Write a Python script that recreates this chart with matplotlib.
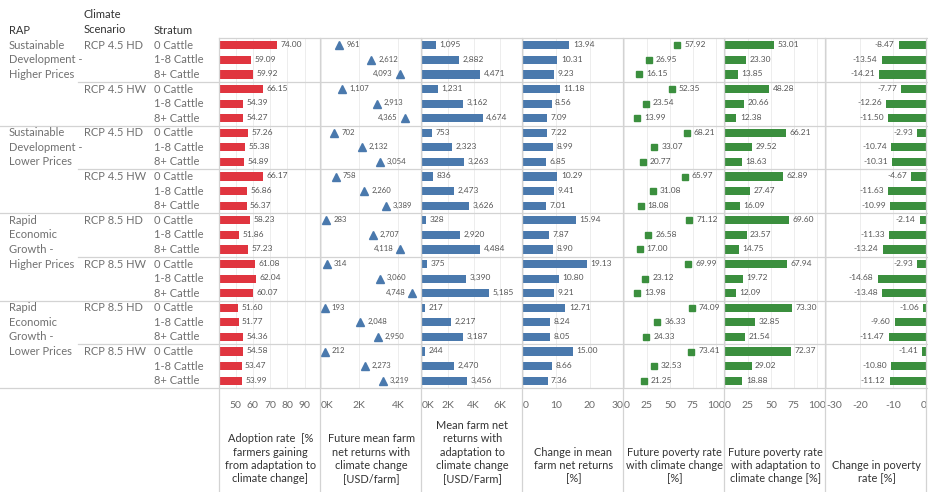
import matplotlib.pyplot as plt
from matplotlib.lines import Line2D

plt.rcParams['font.family'] = ['Lato', 'DejaVu Sans']
plt.rcParams['axes.unicode_minus'] = False

# ---- data ----
rap_labels = ["Sustainable\nDevelopment -\nHigher Prices",
              "Sustainable\nDevelopment -\nLower Prices",
              "Rapid\nEconomic\nGrowth -\nHigher Prices",
              "Rapid\nEconomic\nGrowth -\nLower Prices"]
climate_labels = ["RCP 4.5 HD", "RCP 4.5 HW", "RCP 4.5 HD", "RCP 4.5 HW",
                  "RCP 8.5 HD", "RCP 8.5 HW", "RCP 8.5 HD", "RCP 8.5 HW"]
strata = ["0 Cattle", "1-8 Cattle", "8+ Cattle"]

adoption = [74.00, 59.09, 59.92, 66.15, 54.39, 54.27, 57.26, 55.38, 54.89,
            66.17, 56.86, 56.37, 58.23, 51.86, 57.23, 61.08, 62.04, 60.07,
            51.60, 51.77, 54.36, 54.58, 53.47, 53.99]
future_returns = [961, 2612, 4093, 1107, 2913, 4365, 702, 2132, 3054,
                  758, 2260, 3389, 283, 2707, 4118, 314, 3060, 4748,
                  193, 2048, 2950, 212, 2273, 3219]
adapt_returns = [1095, 2882, 4471, 1231, 3162, 4674, 753, 2323, 3263,
                 836, 2473, 3626, 328, 2920, 4484, 375, 3390, 5185,
                 217, 2217, 3187, 244, 2470, 3456]
change_returns = [13.94, 10.31, 9.23, 11.18, 8.56, 7.09, 7.22, 8.99, 6.85,
                  10.29, 9.41, 7.01, 15.94, 7.87, 8.90, 19.13, 10.80, 9.21,
                  12.71, 8.24, 8.05, 15.00, 8.66, 7.36]
poverty_cc = [57.92, 26.95, 16.15, 52.35, 23.54, 13.99, 68.21, 33.07, 20.77,
              65.97, 31.08, 18.08, 71.12, 26.58, 17.00, 69.99, 23.12, 13.98,
              74.09, 36.33, 24.33, 73.41, 32.53, 21.25]
poverty_adapt = [53.01, 23.30, 13.85, 48.28, 20.66, 12.38, 66.21, 29.52, 18.63,
                 62.89, 27.47, 16.09, 69.60, 23.57, 14.75, 67.94, 19.72, 12.09,
                 73.30, 32.85, 21.54, 72.37, 29.02, 18.88]
change_poverty = [-8.47, -13.54, -14.21, -7.77, -12.26, -11.50, -2.93, -10.74, -10.31,
                  -4.67, -11.63, -10.99, -2.14, -11.33, -13.24, -2.93, -14.68, -13.48,
                  -1.06, -9.60, -11.47, -1.41, -10.80, -11.12]

titles = ["Adoption rate  [%\nfarmers gaining\nfrom adaptation to\nclimate change]",
          "Future mean farm\nnet returns with\nclimate change\n[USD/farm]",
          "Mean farm net\nreturns with\nadaptation to\nclimate change\n[USD/Farm]",
          "Change in mean\nfarm net returns\n[%]",
          "Future poverty rate\nwith climate change\n[%]",
          "Future poverty rate\nwith adaptation to\nclimate change [%]",
          "Change in poverty\nrate [%]"]

RED = "#e0353f"
BLUE = "#4a79ad"
GREEN = "#3b8f3e"
LINE = "#d3d3d3"
GRID = "#ededed"

panels = [
    dict(vals=adoption, kind="bar", color=RED, xlim=(41, 99.5),
         ticks=[50, 60, 70, 80, 90], fmt="{:.2f}"),
    dict(vals=future_returns, kind="tri", color=BLUE, xlim=(0, 5260),
         ticks=[0, 2000, 4000], fmt="{:,.0f}"),
    dict(vals=adapt_returns, kind="bar", color=BLUE, xlim=(0, 7800),
         ticks=[0, 2000, 4000, 6000], fmt="{:,.0f}"),
    dict(vals=change_returns, kind="bar", color=BLUE, xlim=(0, 30.3),
         ticks=[0, 10, 20, 30], fmt="{:.2f}"),
    dict(vals=poverty_cc, kind="sq", color=GREEN, xlim=(0, 110),
         ticks=[0, 25, 50, 75, 100], fmt="{:.2f}"),
    dict(vals=poverty_adapt, kind="bar", color=GREEN, xlim=(0, 110),
         ticks=[0, 25, 50, 75, 100], fmt="{:.2f}"),
    dict(vals=change_poverty, kind="bar", color=GREEN, xlim=(-30.1, 0),
         ticks=[-30, -20, -10, 0], fmt="{:.2f}"),
]

W, H = 929, 492
TOP, BOT = 38, 388
X0, PW = 220, 101
nrows = len(adoption)
row_h = (BOT - TOP) / nrows

fig = plt.figure(figsize=(W / 100, H / 100), dpi=100)


def row_y(i):
    return TOP + row_h * (i + 0.5)


for k, p in enumerate(panels):
    ax = fig.add_axes([(X0 + PW * k) / W, 1 - BOT / H, PW / W, (BOT - TOP) / H])
    ax.patch.set_alpha(0)
    ax.set_ylim(nrows, 0)
    lo, hi = p["xlim"]
    ax.set_xlim(lo, hi)
    ax.set_yticks([])
    ax.set_xticks(p["ticks"])
    if k in (1, 2):
        ax.set_xticklabels([f"{t // 1000}K" for t in p["ticks"]])
    ax.grid(axis="x", color=GRID, lw=0.7)
    ax.set_axisbelow(True)
    ax.tick_params(axis="x", length=0, pad=9, labelsize=7.5, labelcolor="#6a6a6a")
    for s in ax.spines.values():
        s.set_visible(False)
    # Tableau keeps edge tick labels inside the pane
    span = hi - lo
    for t, lab in zip(p["ticks"], ax.get_xticklabels()):
        if abs(t - lo) < 0.02 * span:
            lab.set_ha("left")
        elif abs(hi - t) < 0.02 * span:
            lab.set_ha("right")

    ys = [i + 0.5 for i in range(nrows)]
    if p["kind"] == "bar":
        ax.barh(ys, p["vals"], height=0.56, color=p["color"])
    elif p["kind"] == "tri":
        ax.plot(p["vals"], ys, ls="none", marker="^", ms=5.5, color=p["color"])
    else:
        ax.plot(p["vals"], ys, ls="none", marker="s", ms=5, color=p["color"])

    for v, y in zip(p["vals"], ys):
        txt = p["fmt"].format(v)
        if p["kind"] == "tri":
            left = v > 3800
            ax.annotate(txt, (v, y), xytext=(-5 if left else 5, 0.5), textcoords="offset points",
                        ha="right" if left else "left", va="center", fontsize=5.6,
                        color="#555555", annotation_clip=False)
        elif v < 0:
            ax.annotate(txt, (v, y), xytext=(-3, 0.5), textcoords="offset points",
                        ha="right", va="center", fontsize=6, color="#555555",
                        annotation_clip=False)
        else:
            off = 5 if p["kind"] == "sq" else 2.5
            ax.annotate(txt, (v, y), xytext=(off, 0.5), textcoords="offset points",
                        ha="left", va="center", fontsize=6, color="#555555",
                        annotation_clip=False)

# overlay in pixel coordinates for labels, rules and titles
ov = fig.add_axes([0, 0, 1, 1])
ov.set_xlim(0, W)
ov.set_ylim(H, 0)
ov.axis("off")
ov.patch.set_alpha(0)

# headers
ov.text(9, 30, "RAP", fontsize=8, color="#333333", va="center")
ov.text(84, 22, "Climate\nScenario", fontsize=8, color="#333333", va="center", linespacing=1.45)
ov.text(154, 31, "Stratum", fontsize=8, color="#333333", va="center")

label_col = "#707070"
for g, lab in enumerate(rap_labels):
    for j, line in enumerate(lab.split("\n")):
        ov.text(9, row_y(g * 6 + j), line, fontsize=8, color=label_col, va="center")
for g, lab in enumerate(climate_labels):
    ov.text(84, row_y(g * 3), lab, fontsize=8, color=label_col, va="center")
    for j, s in enumerate(strata):
        ov.text(154, row_y(g * 3 + j), s, fontsize=8, color=label_col, va="center")

# rules
right = X0 + PW * len(panels)
ov.add_line(Line2D([X0 - 1, right], [TOP, TOP], color=LINE, lw=0.9))
for g in range(1, len(climate_labels) + 1):
    y = TOP + row_h * 3 * g
    x_start = 0 if g % 2 == 0 else 78
    ov.add_line(Line2D([x_start, right], [y, y], color=LINE, lw=0.9))
for k in range(len(panels) + 1):
    x = X0 + PW * k - 0.5
    ov.add_line(Line2D([x, x], [TOP, H], color=LINE, lw=0.9))

# column titles
for k, t in enumerate(titles):
    ov.text(X0 + PW * k + PW / 2, 484, t, fontsize=7.9, color="#333333",
            ha="center", va="bottom", linespacing=1.25)

fig.savefig("out.png", dpi=100)
